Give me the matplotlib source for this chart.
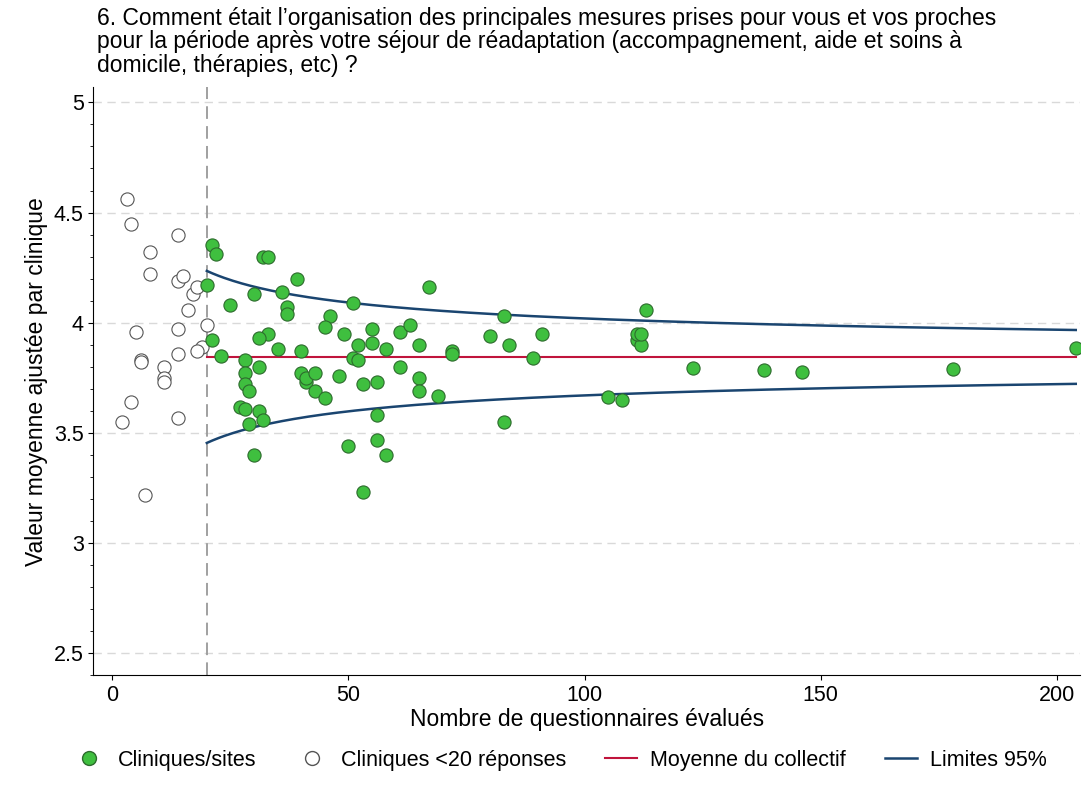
import numpy as np
import matplotlib
matplotlib.use("Agg")
import matplotlib.pyplot as plt
from matplotlib.ticker import MultipleLocator
from matplotlib.lines import Line2D

plt.rcParams['font.family'] = ['Liberation Sans', 'DejaVu Sans']

small_n = [3,4,8,8,14,14,15,17,18,16,20,14,5,19,18,14,6,6,11,11,11,4,14,2,7]
small_v = [4.56,4.45,4.32,4.22,4.40,4.19,4.21,4.13,4.16,4.06,3.99,3.97,3.96,3.89,3.87,3.86,3.83,3.82,3.80,3.75,3.73,3.64,3.57,3.55,3.22]
big_n = [21,22,20,32,33,39,36,30,25,37,37,51,46,67,113,83,45,49,55,61,63,33,31,21,23,35,40,52,55,58,65,72,72,80,84,91,89,111,112,111,112,
         51,52,28,28,28,29,27,28,31,40,41,41,43,48,53,56,61,65,65,43,45,69,29,31,32,56,56,58,50,30,53,83,105,108,123,138,146,178,204]
big_v = [4.355,4.31,4.17,4.30,4.30,4.20,4.14,4.13,4.08,4.07,4.04,4.09,4.03,4.16,4.06,4.03,3.98,3.95,3.97,3.96,3.99,3.95,3.93,3.92,3.85,3.88,3.87,3.90,3.91,3.88,3.90,3.87,3.86,3.94,3.90,3.95,3.84,3.92,3.90,3.95,3.95,
         3.84,3.83,3.83,3.77,3.72,3.69,3.62,3.61,3.80,3.77,3.73,3.75,3.77,3.76,3.72,3.73,3.80,3.75,3.69,3.69,3.66,3.67,3.54,3.60,3.56,3.58,3.47,3.40,3.44,3.40,3.23,3.55,3.665,3.65,3.795,3.785,3.775,3.79,3.885]
mean_val = 3.845
k = 1.745

fig = plt.figure(figsize=(10.87, 7.90), dpi=100)
ax = fig.add_axes([0.086, 0.145, 0.908, 0.745])
ax.set_xlim(-4, 205)
ax.set_ylim(2.4, 5.07)
for y in [2.5,3,3.5,4,4.5,5]:
    ax.axhline(y, color='#d9d9d9', lw=1, ls=(0,(6,4)), zorder=0)
ax.axvline(20, color='#999999', lw=1.3, ls=(0,(7,4)), zorder=1)
ax.scatter(small_n, small_v, s=90, facecolor='white', edgecolor='#555555', lw=0.8, zorder=3)
ax.scatter(big_n, big_v, s=90, facecolor='#3fbf3f', edgecolor='#2d6b2d', lw=0.8, zorder=3)
ax.plot([20, 204], [mean_val, mean_val], color='#c0143c', lw=1.5, zorder=2)
n = np.linspace(20, 204, 300)
ax.plot(n, mean_val + k/np.sqrt(n), color='#1a4570', lw=1.8, zorder=2)
ax.plot(n, mean_val - k/np.sqrt(n), color='#1a4570', lw=1.8, zorder=2)
ax.set_yticks([2.5,3,3.5,4,4.5,5])
ax.set_yticklabels(['2.5','3','3.5','4','4.5','5'])
ax.yaxis.set_minor_locator(MultipleLocator(0.1))
ax.set_xticks([0,50,100,150,200])
for s in ['top','right']:
    ax.spines[s].set_visible(False)
ax.tick_params(labelsize=15.5)
ax.set_xlabel('Nombre de questionnaires évalués', fontsize=16.5, labelpad=1)
ax.set_ylabel('Valeur moyenne ajustée par clinique', fontsize=16.5, labelpad=4)
fig.text(0.089, 0.903, "6. Comment était l’organisation des principales mesures prises pour vous et vos proches\npour la période après votre séjour de réadaptation (accompagnement, aide et soins à\ndomicile, thérapies, etc) ?",
         fontsize=16.5, va='bottom', ha='left', linespacing=1.02)
handles = [Line2D([],[],marker='o',ls='',markersize=10,markerfacecolor='#3fbf3f',markeredgecolor='#2d6b2d'),
           Line2D([],[],marker='o',ls='',markersize=10,markerfacecolor='white',markeredgecolor='#555555'),
           Line2D([],[],color='#c0143c',lw=1.5),
           Line2D([],[],color='#1a4570',lw=1.8)]
fig.legend(handles, ['Cliniques/sites','Cliniques <20 réponses','Moyenne du collectif','Limites 95%'],
           loc='lower center', bbox_to_anchor=(0.515, 0.0), ncol=4, frameon=False, fontsize=15.5, columnspacing=1.8, handlelength=1.5, handletextpad=0.6)
fig.savefig('out.png', dpi=100)
